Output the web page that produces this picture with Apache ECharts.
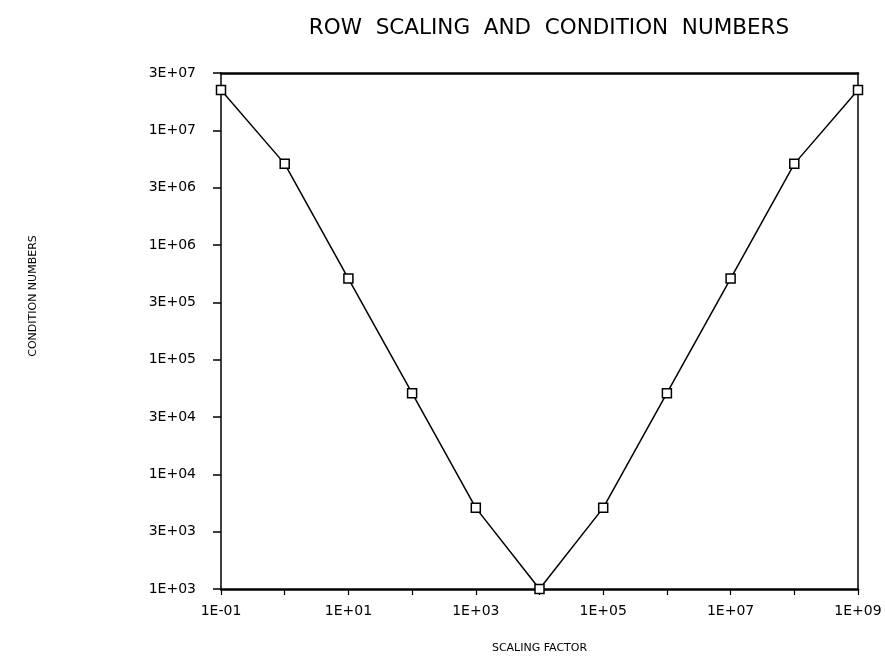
<!DOCTYPE html>
<html>
<head>
<meta charset="utf-8">
<script src="https://cdn.jsdelivr.net/npm/echarts@6/dist/echarts.min.js"></script>
<style>html,body{margin:0;padding:0;background:#fff;}#c{width:885px;height:656px;}</style>
</head>
<body>
<div id="c"></div>
<script>
// Data
var scalingFactors = [1e-1, 1e0, 1e1, 1e2, 1e3, 1e4, 1e5, 1e6, 1e7, 1e8, 1e9];
var conditionNumbers = [2.25e7, 5.1e6, 5.1e5, 5.1e4, 5.1e3, 1.0e3, 5.1e3, 5.1e4, 5.1e5, 5.1e6, 2.25e7];
var xTickLabels = ['1E-01', '', '1E+01', '', '1E+03', '', '1E+05', '', '1E+07', '', '1E+09'];
var yTickLabels = ['1E+03', '3E+03', '1E+04', '3E+04', '1E+05', '3E+05', '1E+06', '3E+06', '1E+07', '3E+07'];
var titleText = 'ROW  SCALING  AND  CONDITION  NUMBERS';
var xName = 'SCALING FACTOR';
var yName = 'CONDITION NUMBERS';

var chart = echarts.init(document.getElementById('c'), null, {renderer: 'canvas'});
var FONT = 'DejaVu Sans';
var pts = scalingFactors.map(function (x, i) { return [x, conditionNumbers[i]]; });

function xLabel(v) { return xTickLabels[Math.round(Math.log10(v)) + 1] || ''; }
function yLabel(v) { return yTickLabels[Math.round(2 * Math.log10(v)) - 6] || ''; }

chart.setOption({
  backgroundColor: '#fff',
  animation: false,
  title: {
    text: titleText,
    left: 544, top: 12, textAlign: 'center',
    textStyle: {fontFamily: FONT, fontSize: 21.5, fontWeight: 'normal', color: '#000'}
  },
  grid: {left: 221, right: 27, top: 73, bottom: 67, containLabel: false, outerBoundsMode: 'none'},
  xAxis: [{
    type: 'log', logBase: 10, min: 0.1, max: 1e9, interval: 1,
    position: 'bottom',
    name: xName, nameLocation: 'middle', nameGap: 54,
    nameTextStyle: {fontFamily: FONT, fontSize: 11, color: '#000'},
    axisLine: {show: true, lineStyle: {color: '#000', width: 2.5}},
    axisTick: {show: true, length: 6, lineStyle: {color: '#000', width: 1.2}},
    minorTick: {show: false},
    splitLine: {show: false},
    axisLabel: {formatter: xLabel, fontFamily: FONT, fontSize: 14, color: '#000', margin: 15}
  }, {
    type: 'log', logBase: 10, min: 0.1, max: 1e9, interval: 1,
    position: 'top',
    axisLine: {show: true, lineStyle: {color: '#000', width: 2.5}},
    axisTick: {show: false}, axisLabel: {show: false}, splitLine: {show: false}
  }],
  yAxis: [{
    type: 'log', logBase: Math.sqrt(10), min: 1e3, max: Math.pow(10, 7.5), interval: 1,
    position: 'left',
    axisLine: {show: true, lineStyle: {color: '#000', width: 1.5}},
    axisTick: {show: true, length: 8, lineStyle: {color: '#000', width: 1.5}},
    minorTick: {show: false},
    splitLine: {show: false},
    axisLabel: {formatter: yLabel, fontFamily: FONT, fontSize: 14, color: '#000', margin: 25}
  }, {
    type: 'log', logBase: Math.sqrt(10), min: 1e3, max: Math.pow(10, 7.5), interval: 1,
    position: 'right',
    axisLine: {show: true, lineStyle: {color: '#000', width: 1.5}},
    axisTick: {show: false}, axisLabel: {show: false}, splitLine: {show: false}
  }],
  graphic: [{
    type: 'text', x: 33, y: 296, rotation: Math.PI / 2,
    style: {text: yName, font: '11px "DejaVu Sans"', fill: '#000', align: 'center', verticalAlign: 'middle'}
  }],
  series: [{
    type: 'line',
    data: pts,
    xAxisIndex: 0, yAxisIndex: 0,
    symbol: 'rect', symbolSize: 9,
    lineStyle: {color: '#000', width: 1.5},
    itemStyle: {color: '#fff', borderColor: '#000', borderWidth: 1.5},
    z: 5
  }]
});
</script>
</body>
</html>
